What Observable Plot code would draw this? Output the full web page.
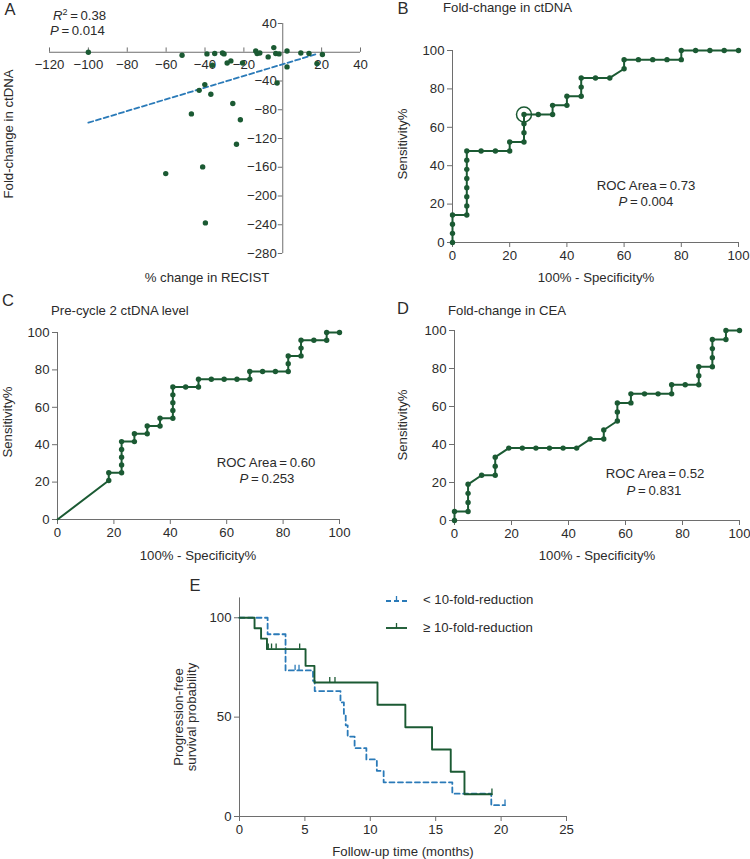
<!DOCTYPE html>
<html><head><meta charset="utf-8">
<script src="https://cdn.jsdelivr.net/npm/d3@7"></script>
<script src="https://cdn.jsdelivr.net/npm/@observablehq/plot@0.6"></script>
<style>
body{margin:0;background:#fff;}
#root{position:relative;width:750px;height:859px;font-family:"Liberation Sans",Arial,sans-serif;color:#2b2b2b;overflow:hidden;}
.p{position:absolute;}
.p svg{overflow:visible;}
.t{position:absolute;white-space:nowrap;font-size:13.2px;line-height:1;}
.c{transform:translate(-50%,-50%);}
.l{transform:translate(0,-50%);}
.r{transform:translate(-50%,-50%) rotate(-90deg);}
.L{font-size:16.5px;}
</style></head><body><div id="root"></div>
<script>
// ---------- Panel A: % change in RECIST vs fold-change in ctDNA ----------
const recistChange = [-100,-51.8,-47,-60.2,-43,-40.1,-39,-41.2,-39.8,-37,-36.2,-35,-31,-30.2,-28.6,-26.7,-25.7,-23.8,-21.8,-20.7,-13.9,-13.2,-11.8,-7.5,-4.6,-3.6,-1.9,-2.9,2.2,2.2,9.3,13.5,17.6,20.4];
const foldChangeCtDNA = [0,-4.2,-85.8,-168.8,-53,-45,-2.3,-159.5,-237.4,-58.4,-18,-1.8,-1,-2.3,-15,-12,-71.4,-128,-94,-15,1.8,-1.8,-1,-6.5,6.5,-1.8,-2.3,-42.7,1.8,-20.4,-1,-1.8,-15.8,-3.2];
const regressionX = [-100, 18];
const regressionY = [-98, -2];
const xTicksA = [-120,-100,-80,-60,-40,-20,20,40];
const yTicksA = [40,-40,-80,-120,-160,-200,-240,-280];

// ---------- Panel B: ROC fold-change in ctDNA ----------
const rocB_fpr = [0,0,0,0,5,5,5,5,5,5,5,5,10,15,20,20,25,25,25,25,30,35,35,40,40,45,45,45,50,55,60,60,65,70,75,80,80,85,90,95,100];
const rocB_sens = [0,4.76,9.52,14.29,14.29,19.05,23.81,28.57,33.33,38.1,42.86,47.62,47.62,47.62,47.62,52.38,52.38,57.14,61.9,66.67,66.67,66.67,71.43,71.43,76.19,76.19,80.95,85.71,85.71,85.71,90.48,95.24,95.24,95.24,95.24,95.24,100,100,100,100,100];
const rocB_cutoff = [{x:25, y:66.67}];

// ---------- Panel C: ROC pre-cycle 2 ctDNA level ----------
const rocC_fpr = [0,18.18,18.18,22.73,22.73,22.73,22.73,22.73,27.27,27.27,31.82,31.82,36.36,36.36,40.91,40.91,40.91,40.91,40.91,45.45,50,50,54.55,59.09,63.64,68.18,68.18,72.73,77.27,81.82,81.82,81.82,86.36,86.36,86.36,90.91,95.45,95.45,100];
const rocC_sens = [0,20.83,25,25,29.17,33.33,37.5,41.67,41.67,45.83,45.83,50,50,54.17,54.17,58.33,62.5,66.67,70.83,70.83,70.83,75,75,75,75,75,79.17,79.17,79.17,79.17,83.33,87.5,87.5,91.67,95.83,95.83,95.83,100,100];

// ---------- Panel D: ROC fold-change in CEA ----------
const rocD_fpr = [0,0,4.76,4.76,4.76,4.76,9.52,14.29,14.29,14.29,19.05,23.81,28.57,33.33,38.1,42.86,47.62,52.38,52.38,57.14,57.14,57.14,61.9,61.9,66.67,71.43,76.19,76.19,80.95,85.71,85.71,85.71,90.48,90.48,90.48,90.48,95.24,95.24,100];
const rocD_sens = [0,4.76,4.76,9.52,14.29,19.05,23.81,23.81,28.57,33.33,38.1,38.1,38.1,38.1,38.1,38.1,42.86,42.86,47.62,52.38,57.14,61.9,61.9,66.67,66.67,66.67,66.67,71.43,71.43,71.43,76.19,80.95,80.95,85.71,90.48,95.24,95.24,100,100];
const rocTicks = [0,20,40,60,80,100];

// ---------- Panel E: Kaplan-Meier PFS ----------
const kmLow_time = [0,2.15,3.52,5.62,5.75,7.72,7.98,8.12,8.27,8.8,9.7,10.5,11.02,16.27,19.25,20.3];
const kmLow_surv = [100,91.7,73.5,68.3,63.1,57.4,51.7,45.9,40.2,34.4,28.7,23.0,17.2,11.5,5.7,5.7];
const kmLow_censorTime = [4.25,4.55,20.3];
const kmLow_censorSurv = [73.5,73.5,5.7];
const kmHigh_time = [0,1.15,1.65,2.1,5.05,5.73,10.55,12.68,14.72,16.15,17.2,19.3];
const kmHigh_surv = [100,94.7,89.5,84.2,75.8,67.4,56.2,44.9,33.7,22.5,11.2,11.2];
const kmHigh_censorTime = [2.2,2.45,2.8,4.6,6.9,7.3,19.3];
const kmHigh_censorSurv = [84.2,84.2,84.2,84.2,67.4,67.4,11.2];
const eXTicks = [0,5,10,15,20,25];
const eYTicks = [0,50,100];

// ---------- styles ----------
const green = "#1b5a33";
const blue = "#2a7ab8";
const axisColor = "#6e6e6e";
const textColor = "#2b2b2b";
const style = {fontFamily: '"Liberation Sans", Arial, sans-serif', fontSize: "13.2px", color: textColor, background: "transparent", overflow: "visible"};
const fmt = d => String(d).replace("-", "\u2212");
const root = document.getElementById("root");

function place(el, left, top) {
  const d = document.createElement("div");
  d.className = "p";
  d.style.left = left + "px";
  d.style.top = top + "px";
  d.appendChild(el);
  root.appendChild(d);
}
function label(html, x, y, cls, extra) {
  const d = document.createElement("div");
  d.className = "t " + cls;
  d.style.left = x + "px";
  d.style.top = y + "px";
  if (extra) Object.assign(d.style, extra);
  d.innerHTML = html;
  root.appendChild(d);
}

// ---------- Panel A ----------
const dataA = recistChange.map((x, i) => ({x, y: foldChangeCtDNA[i]}));
const regA = regressionX.map((x, i) => ({x, y: regressionY[i]}));
const plotA = Plot.plot({
  width: 370, height: 290, marginLeft: 49, marginRight: 10, marginTop: 23, marginBottom: 37,
  x: {domain: [-120, 40], axis: null},
  y: {domain: [-280, 40], axis: null},
  style,
  marks: [
    Plot.ruleY([0], {x1: -120, x2: 40, stroke: axisColor}),
    Plot.ruleX([0], {y1: -280, y2: 40, stroke: axisColor}),
    Plot.ruleX(xTicksA, {y1: 0, y2: 6, stroke: axisColor}),
    Plot.ruleY(yTicksA, {x1: 0, x2: -2.3, stroke: axisColor}),
    Plot.text(xTicksA, {x: d => d, y: 0, dy: 13, text: fmt, fill: textColor}),
    Plot.text(yTicksA, {x: 0, y: d => d, dx: -6, textAnchor: "end", text: fmt, fill: textColor}),
    Plot.line(regA, {x: "x", y: "y", stroke: blue, strokeWidth: 1.8, strokeDasharray: "5,3"}),
    Plot.dot(dataA, {x: "x", y: "y", r: 2.7, fill: green})
  ]
});
place(plotA, 0, 0);

// ---------- ROC panels ----------
function roc(fpr, sens, o) {
  const data = fpr.map((x, i) => ({x, y: sens[i]}));
  const marks = [
    Plot.axisX({ticks: rocTicks, tickSize: 5, tickPadding: 3, label: null, stroke: axisColor, fill: textColor}),
    Plot.axisY({ticks: rocTicks, tickSize: 5, tickPadding: 3, label: null, stroke: axisColor, fill: textColor}),
    Plot.ruleX([0], {stroke: axisColor}),
    Plot.ruleY([0], {stroke: axisColor}),
    Plot.line(data, {x: "x", y: "y", stroke: green, strokeWidth: 2}),
    Plot.dot(o.skipFirst ? data.slice(1) : data, {x: "x", y: "y", r: 2.7, fill: green})
  ];
  if (o.circle) marks.push(Plot.dot(o.circle, {x: "x", y: "y", r: 7.5, stroke: green, strokeWidth: 1.5, fill: "none"}));
  return Plot.plot({
    width: o.w, height: 290, marginLeft: o.ml, marginRight: o.mr, marginTop: o.mt, marginBottom: o.mb,
    x: {domain: [0, 100]}, y: {domain: [0, 100]},
    style, marks
  });
}
place(roc(rocB_fpr, rocB_sens, {w: 380, ml: 82, mr: 12, mt: 50, mb: 48, circle: rocB_cutoff}), 370, 0);
place(roc(rocC_fpr, rocC_sens, {w: 370, ml: 57, mr: 31, mt: 42, mb: 61, skipFirst: true}), 0, 290);
place(roc(rocD_fpr, rocD_sens, {w: 380, ml: 84, mr: 11, mt: 40, mb: 60}), 370, 290);

// ---------- Panel E ----------
const low = kmLow_time.map((t, i) => ({t, s: kmLow_surv[i]}));
const high = kmHigh_time.map((t, i) => ({t, s: kmHigh_surv[i]}));
const lowC = kmLow_censorTime.map((t, i) => ({t, s: kmLow_censorSurv[i]}));
const highC = kmHigh_censorTime.map((t, i) => ({t, s: kmHigh_censorSurv[i]}));
const plotE = Plot.plot({
  width: 750, height: 279, marginLeft: 239, marginRight: 184, marginTop: 17.4, marginBottom: 43,
  x: {domain: [0, 25]}, y: {domain: [0, 110]},
  style,
  marks: [
    Plot.axisX({ticks: eXTicks, tickSize: 5, tickPadding: 3, label: null, stroke: axisColor, fill: textColor}),
    Plot.axisY({ticks: eYTicks, tickSize: 5, tickPadding: 3, label: null, stroke: axisColor, fill: textColor}),
    Plot.ruleX([0], {stroke: axisColor}),
    Plot.ruleY([0], {stroke: axisColor}),
    Plot.line(low, {x: "t", y: "s", curve: "step-after", stroke: blue, strokeWidth: 1.8, strokeDasharray: "5,3.5"}),
    Plot.ruleX(lowC, {x: "t", y1: "s", y2: d => d.s + 2.6, stroke: blue, strokeWidth: 1.3}),
    Plot.line(high, {x: "t", y: "s", curve: "step-after", stroke: green, strokeWidth: 1.9}),
    Plot.ruleX(highC, {x: "t", y1: "s", y2: d => d.s + 2.6, stroke: green, strokeWidth: 1.3})
  ]
});
place(plotE, 0, 580);

// legend for E
label(`<svg width="26" height="12" style="overflow:visible"><line x1="2" x2="23" y1="7" y2="7" stroke="${blue}" stroke-width="1.8" stroke-dasharray="5,3"/><line x1="12.5" x2="12.5" y1="7" y2="2" stroke="${blue}" stroke-width="1.3"/></svg>`, 384, 594, "", {lineHeight: "0"});
label(`<svg width="26" height="12" style="overflow:visible"><line x1="2" x2="23" y1="6" y2="6" stroke="${green}" stroke-width="1.9"/><line x1="12.5" x2="12.5" y1="6" y2="1" stroke="${green}" stroke-width="1.3"/></svg>`, 384, 622, "", {lineHeight: "0"});
label("&lt; 10-fold-reduction", 423, 600, "l");
label("\u2265 10-fold-reduction", 423, 628, "l");

// ---------- text labels ----------
const th = "\u2009=\u2009";
label("A", 10, 9, "c L");
label(`<i>R</i><sup style="font-size:9px;vertical-align:5px">2</sup>${th}0.38`, 53, 15, "l");
label(`<i>P</i>${th}0.014`, 50, 31, "l");
label("Fold-change in ctDNA", 9, 134, "r");
label("% change in RECIST", 207, 278, "c");

label("B", 403, 8, "c L");
label("Fold-change in ctDNA", 443, 8, "l");
label("Sensitivity%", 403, 144, "r");
label("100% - Specificity%", 596, 277.5, "c");
label(`ROC Area${th}0.73`, 646, 186, "c");
label(`<i>P</i>${th}0.004`, 646, 202, "c");

label("C", 8, 300, "c L");
label("Pre-cycle 2 ctDNA level", 51, 311, "l");
label("Sensitivity%", 8, 422, "r");
label("100% - Specificity%", 198, 556, "c");
label(`ROC Area${th}0.60`, 266, 463, "c");
label(`<i>P</i>${th}0.253`, 267, 479, "c");

label("D", 403, 307.5, "c L");
label("Fold-change in CEA", 448, 311, "l");
label("Sensitivity%", 403, 425, "r");
label("100% - Specificity%", 597, 556, "c");
label(`ROC Area${th}0.52`, 655, 474, "c");
label(`<i>P</i>${th}0.831`, 654, 491, "c");

label("E", 195, 584.5, "c L");
label("Progression-free", 179, 717, "r");
label("survival probability", 192, 717, "r");
label("Follow-up time (months)", 403, 852, "c");
</script></body></html>
